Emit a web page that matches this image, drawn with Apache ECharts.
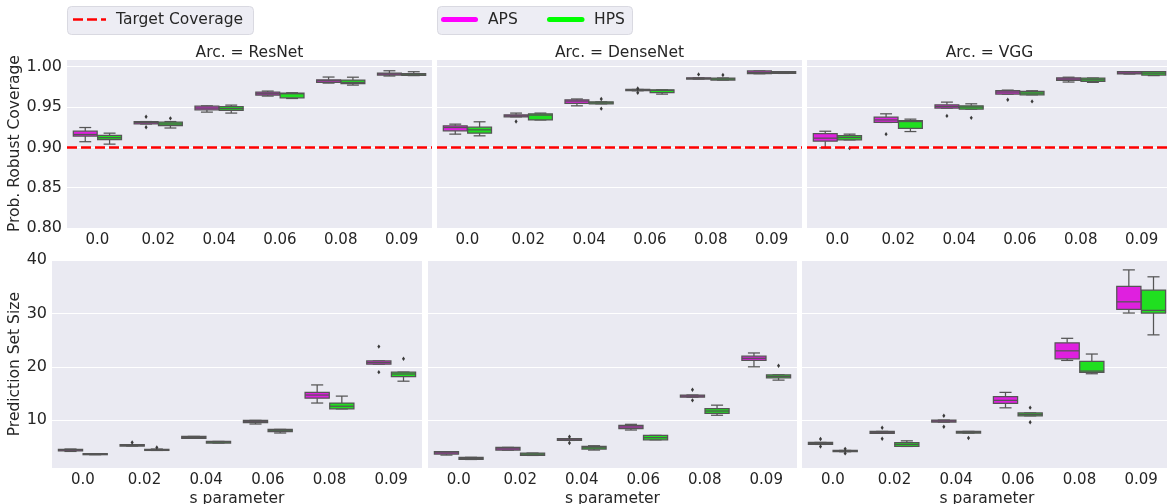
<!DOCTYPE html>
<html><head><meta charset="utf-8">
<script src="https://cdn.jsdelivr.net/npm/echarts@6/dist/echarts.min.js"></script>
<style>html,body{margin:0;padding:0;background:#fff}#c{width:1167px;height:504px}</style>
</head><body><div id="c"></div><script>
// ---------- DATA ----------
const categories = ['0.0', '0.02', '0.04', '0.06', '0.08', '0.09'];
const archs = ['ResNet', 'DenseNet', 'VGG'];
const methods = ['APS', 'HPS'];
const coverageTicks = [0.80, 0.85, 0.90, 0.95, 1.00];
const sizeTicks = [10, 20, 30, 40];
const targetCoverage = 0.9;

// each row: [min, q1, median, q3, max] per category
const covResNetAPS = [
  [0.907, 0.914, 0.916, 0.920, 0.9246],
  [0.929, 0.929, 0.931, 0.932, 0.932],
  [0.9437, 0.9466, 0.9487, 0.951, 0.9515],
  [0.9636, 0.9648, 0.9665, 0.9686, 0.9698],
  [0.9797, 0.9805, 0.9826, 0.9838, 0.9872],
  [0.9885, 0.9897, 0.991, 0.9921, 0.995]
];
const covResNetHPS = [
  [0.904, 0.9097, 0.912, 0.915, 0.9176],
  [0.924, 0.927, 0.929, 0.9313, 0.932],
  [0.9425, 0.946, 0.948, 0.9505, 0.9524],
  [0.9606, 0.9615, 0.9665, 0.9673, 0.9677],
  [0.9772, 0.9789, 0.9805, 0.9835, 0.987],
  [0.989, 0.9893, 0.990, 0.9914, 0.9938]
];
const covResNetAPSOut = [[1, 0.938], [1, 0.925]];
const covResNetHPSOut = [[1, 0.936]];

const covDenseAPS = [
  [0.9164, 0.9205, 0.9246, 0.9267, 0.9288],
  [0.9379, 0.9379, 0.939, 0.9404, 0.9425],
  [0.9515, 0.9545, 0.9574, 0.959, 0.960],
  [0.9702, 0.9702, 0.971, 0.9718, 0.9718],
  [0.9847, 0.9847, 0.9855, 0.9863, 0.9863],
  [0.9913, 0.9913, 0.993, 0.9947, 0.9947]
];
const covDenseHPS = [
  [0.9143, 0.9176, 0.9217, 0.925, 0.9317],
  [0.934, 0.934, 0.940, 0.9416, 0.9425],
  [0.954, 0.954, 0.9553, 0.9565, 0.9565],
  [0.966, 0.968, 0.9706, 0.9714, 0.9714],
  [0.9835, 0.9835, 0.9847, 0.986, 0.986],
  [0.9917, 0.9917, 0.993, 0.9938, 0.9938]
];
const covDenseAPSOut = [[1, 0.932], [3, 0.973], [3, 0.9677], [4, 0.9905]];
const covDenseHPSOut = [[2, 0.960], [2, 0.948], [4, 0.9897]];

const covVGGAPS = [
  [0.8994, 0.9077, 0.9114, 0.9171, 0.920],
  [0.9309, 0.9309, 0.934, 0.9375, 0.9416],
  [0.9487, 0.9487, 0.9507, 0.9528, 0.9561],
  [0.966, 0.966, 0.9686, 0.9702, 0.971],
  [0.981, 0.983, 0.9847, 0.9863, 0.987],
  [0.991, 0.991, 0.9922, 0.9938, 0.9938]
];
const covVGGHPS = [
  [0.9093, 0.9093, 0.9122, 0.9147, 0.9164],
  [0.9196, 0.9234, 0.932, 0.933, 0.935],
  [0.9474, 0.9474, 0.950, 0.9515, 0.954],
  [0.9652, 0.9652, 0.9673, 0.9694, 0.9702],
  [0.9806, 0.9818, 0.9838, 0.986, 0.986],
  [0.989, 0.9897, 0.992, 0.9938, 0.9938]
];
const covVGGAPSOut = [[1, 0.9164], [2, 0.939], [3, 0.959]];
const covVGGHPSOut = [[0, 0.899], [2, 0.9366], [3, 0.957]];

const sizeResNetAPS = [
  [4.11, 4.2, 4.37, 4.5, 4.56],
  [5.13, 5.13, 5.25, 5.37, 5.37],
  [6.56, 6.56, 6.75, 6.93, 6.93],
  [9.26, 9.5, 9.7, 9.94, 9.94],
  [13.2, 14.1, 14.7, 15.2, 16.6],
  [20.5, 20.5, 20.8, 21.1, 21.1]
];
const sizeResNetHPS = [
  [3.5, 3.5, 3.6, 3.7, 3.7],
  [4.3, 4.3, 4.4, 4.5, 4.56],
  [5.69, 5.69, 5.85, 5.99, 5.99],
  [7.57, 7.81, 8.0, 8.25, 8.25],
  [12.1, 12.1, 12.6, 13.2, 14.5],
  [17.3, 18.15, 18.65, 19.0, 19.0]
];
const sizeResNetAPSOut = [[1, 5.8], [5, 23.8], [5, 19.0]];
const sizeResNetHPSOut = [[1, 4.86], [5, 21.5]];

const sizeDenseAPS = [
  [3.43, 3.62, 3.85, 4.06, 4.06],
  [4.37, 4.37, 4.6, 4.87, 4.87],
  [6.18, 6.18, 6.3, 6.5, 6.5],
  [8.13, 8.38, 8.7, 9.0, 9.2],
  [14.3, 14.3, 14.5, 14.7, 14.7],
  [20.0, 21.2, 21.6, 22.0, 22.6]
];
const sizeDenseHPS = [
  [2.6, 2.6, 2.8, 3.0, 3.0],
  [3.36, 3.36, 3.6, 3.8, 3.8],
  [4.37, 4.56, 4.8, 5.05, 5.18],
  [6.3, 6.3, 6.7, 7.12, 7.12],
  [10.9, 11.25, 11.7, 12.13, 12.8],
  [17.5, 17.9, 18.2, 18.5, 18.5]
];
const sizeDenseAPSOut = [[2, 6.87], [2, 5.7], [4, 15.7], [4, 13.7]];
const sizeDenseHPSOut = [[5, 20.2]];

const sizeVGGAPS = [
  [5.43, 5.43, 5.6, 5.8, 5.8],
  [7.5, 7.5, 7.7, 7.87, 7.87],
  [9.63, 9.63, 9.8, 10.0, 10.0],
  [12.3, 13.13, 13.7, 14.4, 15.2],
  [21.2, 21.5, 23.0, 24.5, 25.35],
  [30.1, 30.8, 32.2, 35.1, 38.2]
];
const sizeVGGHPS = [
  [4.06, 4.06, 4.2, 4.3, 4.3],
  [5.05, 5.05, 5.43, 5.75, 6.1],
  [7.56, 7.56, 7.7, 7.87, 7.87],
  [10.8, 10.8, 11.06, 11.33, 11.33],
  [18.7, 18.95, 19.2, 21.0, 22.4],
  [26.0, 30.1, 30.6, 34.4, 36.9]
];
const sizeVGGAPSOut = [[0, 6.44], [0, 5.05], [1, 8.56], [1, 6.5], [2, 10.8], [2, 8.75]];
const sizeVGGHPSOut = [[0, 4.6], [0, 3.74], [2, 6.63], [3, 12.33], [3, 9.6]];

// ---------- STYLE / LAYOUT ----------
const FONT = 'DejaVu Sans';
const TXT = '#262626';
const GRAY = '#555555';
const BG = '#EAEAF2';
const FILL = { APS: '#DF20DF', HPS: '#20DF20' };
const LEGEND_COLOR = { APS: '#FF00FF', HPS: '#00FF00' };

const grids = [
  { left: 67,  top: 59.3,  width: 365, height: 168.7 },
  { left: 437, top: 59.3,  width: 365, height: 168.7 },
  { left: 807, top: 59.3,  width: 365, height: 168.7 },
  { left: 52,  top: 260.3, width: 370, height: 207.7 },
  { left: 428, top: 260.3, width: 369, height: 207.7 },
  { left: 802, top: 260.3, width: 370, height: 207.7 }
];

const panels = [
  { box: [covResNetAPS, covResNetHPS], out: [covResNetAPSOut, covResNetHPSOut] },
  { box: [covDenseAPS, covDenseHPS], out: [covDenseAPSOut, covDenseHPSOut] },
  { box: [covVGGAPS, covVGGHPS], out: [covVGGAPSOut, covVGGHPSOut] },
  { box: [sizeResNetAPS, sizeResNetHPS], out: [sizeResNetAPSOut, sizeResNetHPSOut] },
  { box: [sizeDenseAPS, sizeDenseHPS], out: [sizeDenseAPSOut, sizeDenseHPSOut] },
  { box: [sizeVGGAPS, sizeVGGHPS], out: [sizeVGGAPSOut, sizeVGGHPSOut] }
];

function boxRender(dir, fill) {
  return function (params, api) {
    const cat = api.value(0);
    const band = api.size([1, 0])[0];
    const w = 0.392 * band;
    const x = api.coord([cat, api.value(3)])[0] + dir * 0.2 * band;
    const y = (d) => api.coord([cat, api.value(d)])[1];
    const yMin = y(1), yQ1 = y(2), yMed = y(3), yQ3 = y(4), yMax = y(5);
    const cw = w * 0.25;
    const ls = { stroke: GRAY, lineWidth: 1.25 };
    return {
      type: 'group',
      children: [
        { type: 'line', shape: { x1: x, y1: yQ1, x2: x, y2: yMin }, style: ls },
        { type: 'line', shape: { x1: x, y1: yQ3, x2: x, y2: yMax }, style: ls },
        { type: 'line', shape: { x1: x - cw, y1: yMin, x2: x + cw, y2: yMin }, style: ls },
        { type: 'line', shape: { x1: x - cw, y1: yMax, x2: x + cw, y2: yMax }, style: ls },
        { type: 'rect', shape: { x: x - w / 2, y: yQ3, width: w, height: Math.max(yQ1 - yQ3, 0.5) },
          style: { fill: fill, stroke: GRAY, lineWidth: 1.25 } },
        { type: 'line', shape: { x1: x - w / 2, y1: yMed, x2: x + w / 2, y2: yMed }, style: ls }
      ]
    };
  };
}

function outRender(dir) {
  return function (params, api) {
    const band = api.size([1, 0])[0];
    const p = api.coord([api.value(0), api.value(1)]);
    const x = p[0] + dir * 0.2 * band, yy = p[1];
    const r = 2.2;
    return {
      type: 'polygon',
      shape: { points: [[x, yy - r], [x + r * 0.7, yy], [x, yy + r], [x - r * 0.7, yy]] },
      style: { fill: '#3a3a3a' }
    };
  };
}

const xAxes = [], yAxes = [], series = [];
grids.forEach((g, i) => {
  const isTop = i < 3;
  const isLeft = i % 3 === 0;
  xAxes.push({
    type: 'category', gridIndex: i, data: categories,
    axisLine: { show: false }, axisTick: { show: false }, splitLine: { show: false },
    axisLabel: { fontSize: 15, color: TXT, fontFamily: FONT, margin: 5 },
    name: isTop ? '' : 's parameter', nameLocation: 'middle', nameGap: 23,
    nameTextStyle: { fontSize: 15.5, color: TXT, fontFamily: FONT }
  });
  const y = {
    type: 'value', gridIndex: i,
    axisLine: { show: false }, axisTick: { show: false },
    splitLine: { show: true, lineStyle: { color: '#FFFFFF', width: 1 } },
    axisLabel: { show: isLeft, fontSize: 16, color: TXT, fontFamily: FONT, margin: 5,
      showMaxLabel: !isTop, showMinLabel: isTop },
    nameLocation: 'middle', nameRotate: 90,
    nameTextStyle: { fontSize: 15.5, color: TXT, fontFamily: FONT }
  };
  if (isTop) {
    Object.assign(y, { min: coverageTicks[0], max: 1.0092, interval: 0.05 });
    y.axisLabel.formatter = (v) => v.toFixed(2);
    if (isLeft) { y.name = 'Prob. Robust Coverage'; y.nameGap = 39; }
  } else {
    Object.assign(y, { min: 1, max: sizeTicks[sizeTicks.length - 1], splitNumber: 4 });
    if (isLeft) { y.name = 'Prediction Set Size'; y.nameGap = 24; }
  }
  yAxes.push(y);

  methods.forEach((m, k) => {
    const dir = k === 0 ? -1 : 1;
    const s = {
      type: 'custom', name: m, xAxisIndex: i, yAxisIndex: i,
      renderItem: boxRender(dir, FILL[m]),
      encode: { x: 0, y: [1, 2, 3, 4, 5] },
      data: panels[i].box[k].map((r, c) => [c].concat(r)),
      z: 2, silent: true
    };
    if (isTop && k === 1) {
      s.markLine = {
        silent: true, symbol: ['none', 'none'], label: { show: false },
        lineStyle: { color: '#FF0000', width: 2.6, type: [10, 4] },
        data: [{ yAxis: targetCoverage }], z: 5
      };
    }
    series.push(s);
    series.push({
      type: 'custom', name: m + ' outliers', xAxisIndex: i, yAxisIndex: i,
      renderItem: outRender(dir),
      encode: { x: 0, y: 1 },
      data: panels[i].out[k], z: 3, silent: true
    });
  });
});

const graphics = [];
archs.forEach((a, i) => {
  graphics.push({
    type: 'text', x: grids[i].left + grids[i].width / 2, y: 53,
    style: { text: 'Arc. = ' + a, align: 'center', verticalAlign: 'middle',
      fontSize: 15.5, fontFamily: FONT, fill: TXT }
  });
});
// legends
graphics.push(
  { type: 'rect', shape: { x: 67.5, y: 6.5, width: 186, height: 28, r: 4 },
    style: { fill: '#EDEDF4', stroke: '#D9D9E1', lineWidth: 1 } },
  { type: 'line', shape: { x1: 73, y1: 19.5, x2: 106, y2: 19.5 },
    style: { stroke: '#FF0000', lineWidth: 2.6, lineDash: [10, 4] } },
  { type: 'text', x: 116, y: 20, style: { text: 'Target Coverage', verticalAlign: 'middle',
      fontSize: 15.5, fontFamily: FONT, fill: TXT } },
  { type: 'rect', shape: { x: 437.5, y: 6.5, width: 195, height: 28, r: 4 },
    style: { fill: '#EDEDF4', stroke: '#D9D9E1', lineWidth: 1 } },
  { type: 'line', shape: { x1: 443.5, y1: 19.5, x2: 475.5, y2: 19.5 },
    style: { stroke: LEGEND_COLOR.APS, lineWidth: 5, lineCap: 'round' } },
  { type: 'text', x: 488, y: 20, style: { text: methods[0], verticalAlign: 'middle',
      fontSize: 15.5, fontFamily: FONT, fill: TXT } },
  { type: 'line', shape: { x1: 549.5, y1: 19.5, x2: 582, y2: 19.5 },
    style: { stroke: LEGEND_COLOR.HPS, lineWidth: 5, lineCap: 'round' } },
  { type: 'text', x: 594, y: 20, style: { text: methods[1], verticalAlign: 'middle',
      fontSize: 15.5, fontFamily: FONT, fill: TXT } }
);

const chart = echarts.init(document.getElementById('c'));
chart.setOption({
  animation: false,
  backgroundColor: '#FFFFFF',
  textStyle: { fontFamily: FONT },
  grid: grids.map(g => Object.assign({ show: true, backgroundColor: BG, borderWidth: 0,
    containLabel: false, outerBoundsMode: 'none' }, g)),
  xAxis: xAxes,
  yAxis: yAxes,
  series: series,
  graphic: graphics
});
</script></body></html>
